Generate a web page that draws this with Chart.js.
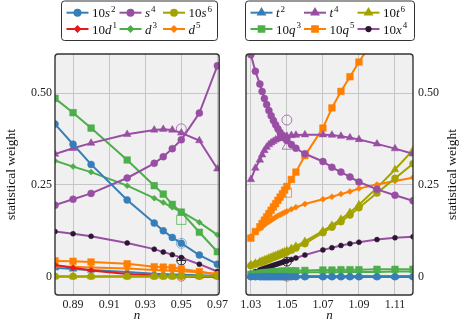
<!DOCTYPE html>
<html>
<head>
<meta charset="utf-8">
<script src="https://cdn.jsdelivr.net/npm/chart.js@4.4.1/dist/chart.umd.min.js"></script>
<style>
html, body { margin: 0; padding: 0; background: #fff; }
#wrap { position: relative; width: 463px; height: 325px; }
canvas { position: absolute; top: 0; }
#chartLeft { left: 0; }
#chartRight { left: 231px; }
</style>
</head>
<body>
<div id="wrap">
  <canvas id="chartLeft" width="231" height="325"></canvas>
  <canvas id="chartRight" width="232" height="325"></canvas>
</div>
<script>
// n values of each panel
const nLeft = [0.88, 0.89, 0.90, 0.92, 0.935, 0.94, 0.945, 0.95, 0.96, 0.97];
const nRight = [1.03, 1.0325, 1.035, 1.03625, 1.0375, 1.03875, 1.04, 1.04125, 1.0425, 1.04375, 1.045, 1.04625, 1.0475, 1.04875, 1.05,
                1.0525, 1.055, 1.06, 1.07, 1.075, 1.08, 1.085, 1.09, 1.10, 1.11, 1.12];

const xTicksLeft = [0.89, 0.91, 0.93, 0.95, 0.97];
const xTicksRight = [1.03, 1.05, 1.07, 1.09, 1.11];
const yTicks = [0, 0.25, 0.5];
const yTickLabels = ['0', '0.25', '0.50'];

const seriesNames = ['10s^2', 's^4', '10s^6', '10d^1', 'd^3', 'd^5', 't^2', 't^4', '10t^6', '10q^3', '10q^5', '10x^4'];

// left panel (n < 1)
const s2L = [0.416, 0.361, 0.306, 0.209, 0.146, 0.125, 0.107, 0.091, 0.059, 0.034];
const s4L = [0.195, 0.211, 0.227, 0.269, 0.309, 0.327, 0.349, 0.373, 0.446, 0.575];
const s6L = [0.001, 0.001, 0.001, 0.001, 0.001, 0.001, 0.001, 0.001, 0.001, 0.001];
const d1L = [0.032, 0.024, 0.017, 0.007, 0.003, 0.002, 0.002, 0.001, 0.0, 0.0];
const d3L = [0.316, 0.300, 0.285, 0.248, 0.214, 0.202, 0.189, 0.177, 0.148, 0.114];
const d5L = [0.028, 0.027, 0.025, 0.022, 0.018, 0.017, 0.016, 0.015, 0.012, 0.008];
const t2L = [0.024, 0.021, 0.018, 0.013, 0.008, 0.007, 0.006, 0.005, 0.004, 0.002];
const t4L = [0.334, 0.350, 0.364, 0.388, 0.400, 0.402, 0.400, 0.392, 0.371, 0.294];
const t6L = [0.0, 0.0, 0.0, 0.0, 0.0, 0.0, 0.0, 0.0, 0.0, 0.0];
const q3L = [0.486, 0.447, 0.405, 0.318, 0.248, 0.225, 0.197, 0.176, 0.121, 0.068];
const q5L = [0.043, 0.042, 0.040, 0.035, 0.027, 0.026, 0.025, 0.021, 0.014, 0.005];
const x4L = [0.123, 0.117, 0.110, 0.092, 0.075, 0.067, 0.060, 0.052, 0.034, 0.014];

// right panel (n > 1)
const s2R = [0, 0, 0, 0, 0, 0, 0, 0, 0, 0, 0, 0, 0, 0, 0, 0, 0, 0, 0, 0, 0, 0, 0, 0, 0, 0];
const s4R = [0.605, 0.560, 0.525, 0.505, 0.486, 0.469, 0.453, 0.439, 0.426, 0.414, 0.403, 0.393, 0.385, 0.378, 0.371,
             0.360, 0.350, 0.335, 0.314, 0.298, 0.285, 0.272, 0.258, 0.238, 0.222, 0.207];
const s6R = [0.030, 0.034, 0.038, 0.040, 0.042, 0.045, 0.047, 0.050, 0.052, 0.055, 0.057, 0.060, 0.062, 0.065, 0.067,
             0.072, 0.078, 0.090, 0.120, 0.135, 0.150, 0.168, 0.188, 0.228, 0.268, 0.308];
const d1R = [0, 0, 0, 0, 0, 0, 0, 0, 0, 0, 0, 0, 0, 0, 0, 0, 0, 0, 0, 0, 0, 0, 0, 0, 0, 0];
const d3R = [0.004, 0.005, 0.006, 0.006, 0.007, 0.007, 0.008, 0.008, 0.008, 0.009, 0.009, 0.009, 0.010, 0.010, 0.010,
             0.011, 0.011, 0.012, 0.012, 0.012, 0.013, 0.013, 0.013, 0.013, 0.014, 0.014];
const d5R = [0.110, 0.122, 0.131, 0.136, 0.141, 0.146, 0.150, 0.154, 0.158, 0.162, 0.166, 0.169, 0.172, 0.175, 0.178,
             0.184, 0.189, 0.198, 0.211, 0.218, 0.225, 0.232, 0.240, 0.251, 0.261, 0.270];
const t2R = [0.001, 0.001, 0.001, 0.001, 0.001, 0.001, 0.001, 0.001, 0.001, 0.001, 0.001, 0.001, 0.001, 0.001, 0.001,
             0.001, 0.001, 0.001, 0.001, 0.001, 0.001, 0.001, 0.001, 0.001, 0.001, 0.001];
const t4R = [0.265, 0.296, 0.318, 0.332, 0.344, 0.353, 0.360, 0.365, 0.369, 0.373, 0.376, 0.378, 0.380, 0.382, 0.383,
             0.385, 0.386, 0.387, 0.387, 0.386, 0.383, 0.379, 0.374, 0.362, 0.349, 0.335];
const t6R = [0.033, 0.037, 0.041, 0.043, 0.046, 0.048, 0.051, 0.053, 0.056, 0.058, 0.061, 0.063, 0.066, 0.068, 0.071,
             0.077, 0.083, 0.096, 0.125, 0.140, 0.157, 0.175, 0.196, 0.242, 0.292, 0.345];
const q3R = [0.006, 0.008, 0.009, 0.010, 0.011, 0.011, 0.012, 0.012, 0.013, 0.013, 0.014, 0.014, 0.015, 0.015, 0.015,
             0.016, 0.016, 0.017, 0.018, 0.018, 0.019, 0.019, 0.019, 0.020, 0.020, 0.020];
const q5R = [0.105, 0.123, 0.136, 0.145, 0.154, 0.163, 0.172, 0.181, 0.190, 0.199, 0.208, 0.217, 0.226, 0.236, 0.246,
             0.265, 0.285, 0.330, 0.405, 0.460, 0.505, 0.545, 0.585, 0.660, null, null];
const x4R = [0.009, 0.014, 0.019, 0.021, 0.023, 0.025, 0.027, 0.029, 0.031, 0.033, 0.035, 0.037, 0.039, 0.041, 0.043,
             0.047, 0.051, 0.059, 0.073, 0.079, 0.085, 0.090, 0.094, 0.101, 0.106, 0.109];

// open reference markers at n = 0.95 and n = 1.05
const refLeftN = 0.95;
const refLeftY = [0.403, 0.155, 0.091, 0.044, 0.044, 0.0];
const refRightN = 1.05;
const refRightY = [0.427, 0.355, 0.229, 0.041, 0.041, 0.0];

const seriesColors = ['#377eb8', '#984ea3', '#a3a300', '#e41a1c', '#4daf4a', '#ff7f00',
                      '#377eb8', '#984ea3', '#a3a300', '#4daf4a', '#ff7f00', '#984ea3'];
const seriesMarkers = ['circle', 'circle', 'circle', 'rectRot', 'rectRot', 'rectRot',
                       'triangle', 'triangle', 'triangle', 'rect', 'rect', 'circle'];
const markerRadius = { circle: 3.5, rectRot: 3, triangle: 4.4, rect: 4.7 };
const refLeftStyle = [['circle', 'rgba(152,78,163,0.75)', 5], ['rect', 'rgba(77,175,74,0.75)', 6.5], ['circle', 'rgba(55,126,184,0.55)', 5],
                      ['circle', '#222', 4.5], ['cross', '#222', 4.5], ['circle', 'rgba(228,26,28,0.6)', 4.5]];
const refRightStyle = [['circle', 'rgba(152,78,163,0.75)', 5], ['triangle', 'rgba(152,78,163,0.75)', 5.5], ['rect', 'rgba(255,127,0,0.75)', 6.5],
                       ['circle', '#222', 4.5], ['cross', '#222', 4.5], ['circle', 'rgba(228,26,28,0.6)', 4.5]];

const FONT = '"Liberation Serif", "DejaVu Serif", serif';
Chart.defaults.font.family = FONT;
Chart.defaults.font.size = 12;
Chart.defaults.color = '#222';

function markerColor(i) { return i === 11 ? '#2b1830' : seriesColors[i]; }
function markerSize(i) { return i === 11 ? 2.5 : markerRadius[seriesMarkers[i]]; }

function buildDatasets(ns, values, refN, refY, refStyle) {
  const sets = values.map((vals, i) => ({
    label: seriesNames[i],
    data: ns.map((n, k) => ({ x: n, y: vals[k] })),
    borderColor: seriesColors[i],
    backgroundColor: markerColor(i),
    pointBackgroundColor: markerColor(i),
    pointBorderColor: markerColor(i),
    borderWidth: 2,
    pointStyle: seriesMarkers[i],
    pointRadius: markerSize(i),
    pointBorderWidth: 0.5,
    tension: 0
  }));
  refY.forEach((y, j) => {
    sets.push({
      label: 'ref' + j,
      data: [{ x: refN, y: y }],
      showLine: false,
      pointStyle: refStyle[j][0],
      pointRadius: refStyle[j][2],
      pointBackgroundColor: 'rgba(0,0,0,0)',
      pointBorderColor: refStyle[j][1],
      pointBorderWidth: 1
    });
  });
  return sets;
}

function drawMath(ctx, label, x, y) {
  const m = label.match(/^(\d*)([a-z])\^(\d)$/);
  let cx = x;
  ctx.textAlign = 'left';
  ctx.textBaseline = 'alphabetic';
  ctx.fillStyle = '#111';
  if (m[1]) {
    ctx.font = '13px ' + FONT;
    ctx.fillText(m[1], cx, y);
    cx += ctx.measureText(m[1]).width;
  }
  ctx.font = 'italic 13px ' + FONT;
  ctx.fillText(m[2], cx, y);
  cx += ctx.measureText(m[2]).width + 1;
  ctx.font = '9px ' + FONT;
  ctx.fillText(m[3], cx, y - 5.5);
}

function roundRect(ctx, x, y, w, h, r) {
  ctx.beginPath();
  ctx.moveTo(x + r, y);
  ctx.lineTo(x + w - r, y);
  ctx.arcTo(x + w, y, x + w, y + r, r);
  ctx.lineTo(x + w, y + h - r);
  ctx.arcTo(x + w, y + h, x + w - r, y + h, r);
  ctx.lineTo(x + r, y + h);
  ctx.arcTo(x, y + h, x, y + h - r, r);
  ctx.lineTo(x, y + r);
  ctx.arcTo(x, y, x + r, y, r);
  ctx.closePath();
}

function framePlugin(opts) {
  return {
    id: 'frame',
    beforeDraw(chart) {
      const a = chart.chartArea, ctx = chart.ctx;
      ctx.save();
      roundRect(ctx, a.left, a.top, a.right - a.left, a.bottom - a.top, 3);
      ctx.fillStyle = '#f0f0f0';
      ctx.fill();
      ctx.restore();
    },
    afterDraw(chart) {
      const a = chart.chartArea, ctx = chart.ctx;
      ctx.save();
      roundRect(ctx, a.left, a.top, a.right - a.left, a.bottom - a.top, 3);
      ctx.strokeStyle = '#333';
      ctx.lineWidth = 1.4;
      ctx.stroke();

      // axis titles
      ctx.fillStyle = '#111';
      ctx.font = 'italic 13px ' + FONT;
      ctx.textAlign = 'center';
      ctx.textBaseline = 'middle';
      ctx.fillText('n', (a.left + a.right) / 2, 316);
      ctx.font = '13.5px ' + FONT;
      ctx.translate(opts.titleX, (a.top + a.bottom) / 2);
      ctx.rotate(-Math.PI / 2);
      ctx.fillText('statistical weight', 0, 0);
      ctx.restore();

      // legend box
      ctx.save();
      roundRect(ctx, opts.legendX, 1, opts.legendW, 39.5, 3);
      ctx.fillStyle = '#fff';
      ctx.fill();
      ctx.strokeStyle = '#333';
      ctx.lineWidth = 1;
      ctx.stroke();
      opts.entries.forEach((idx, k) => {
        const col = k % 3, row = Math.floor(k / 3);
        const lx = opts.colX[col], ly = row === 0 ? 12.7 : 29;
        ctx.strokeStyle = seriesColors[idx];
        ctx.lineWidth = 2;
        ctx.beginPath();
        ctx.moveTo(lx, ly);
        ctx.lineTo(lx + 22, ly);
        ctx.stroke();
        ctx.fillStyle = markerColor(idx);
        ctx.strokeStyle = markerColor(idx);
        Chart.helpers.drawPoint(ctx, { pointStyle: seriesMarkers[idx], radius: markerSize(idx) * 0.85, rotation: 0, borderWidth: 0.5 }, lx + 11, ly);
        drawMath(ctx, seriesNames[idx], lx + 25.5, ly + 4.5);
      });
      ctx.restore();
    }
  };
}

function makeChart(id, ns, values, xMin, xMax, xTicks, side, refN, refY, refStyle, plug) {
  return new Chart(document.getElementById(id), {
    type: 'line',
    data: { datasets: buildDatasets(ns, values, refN, refY, refStyle) },
    options: {
      responsive: false,
      animation: false,
      events: [],
      layout: { padding: side === 'left' ? { top: 54, right: 10, left: 0, bottom: 0 } : { top: 54, right: 0, left: 15, bottom: 0 } },
      plugins: { legend: { display: false }, tooltip: { enabled: false } },
      scales: {
        x: {
          type: 'linear', min: xMin, max: xMax,
          afterBuildTicks: s => { s.ticks = xTicks.map(v => ({ value: v })); },
          afterFit: s => { s.height = 30; },
          ticks: { callback: v => v.toFixed(2), maxRotation: 0, padding: 3, autoSkip: false },
          grid: { color: '#c6c6c6', lineWidth: 1, drawTicks: false },
          border: { display: false }
        },
        y: {
          type: 'linear', position: side, min: -0.05, max: 0.607,
          afterBuildTicks: s => { s.ticks = yTicks.map(v => ({ value: v })); },
          afterFit: s => { s.width = side === 'left' ? 55 : 50; },
          ticks: { callback: (v) => yTickLabels[yTicks.indexOf(v)], padding: side === 'left' ? 3 : 5, autoSkip: false },
          grid: { color: '#c6c6c6', lineWidth: 1, drawTicks: false },
          border: { display: false }
        }
      }
    },
    plugins: [plug]
  });
}

makeChart('chartLeft', nLeft, [s2L, s4L, s6L, d1L, d3L, d5L, t2L, t4L, t6L, q3L, q5L, x4L],
  0.88, 0.971, xTicksLeft, 'left', refLeftN, refLeftY, refLeftStyle,
  framePlugin({ titleX: 11, legendX: 61.5, legendW: 156, colX: [66.5, 119.5, 163], entries: [0, 1, 2, 3, 4, 5] }));

makeChart('chartRight', nRight, [s2R, s4R, s6R, d1R, d3R, d5R, t2R, t4R, t6R, q3R, q5R, x4R],
  1.0273, 1.12, xTicksRight, 'right', refRightN, refRightY, refRightStyle,
  framePlugin({ titleX: 221, legendX: 14.5, legendW: 169, colX: [19.5, 73, 126.5], entries: [6, 7, 8, 9, 10, 11] }));
</script>
</body>
</html>
